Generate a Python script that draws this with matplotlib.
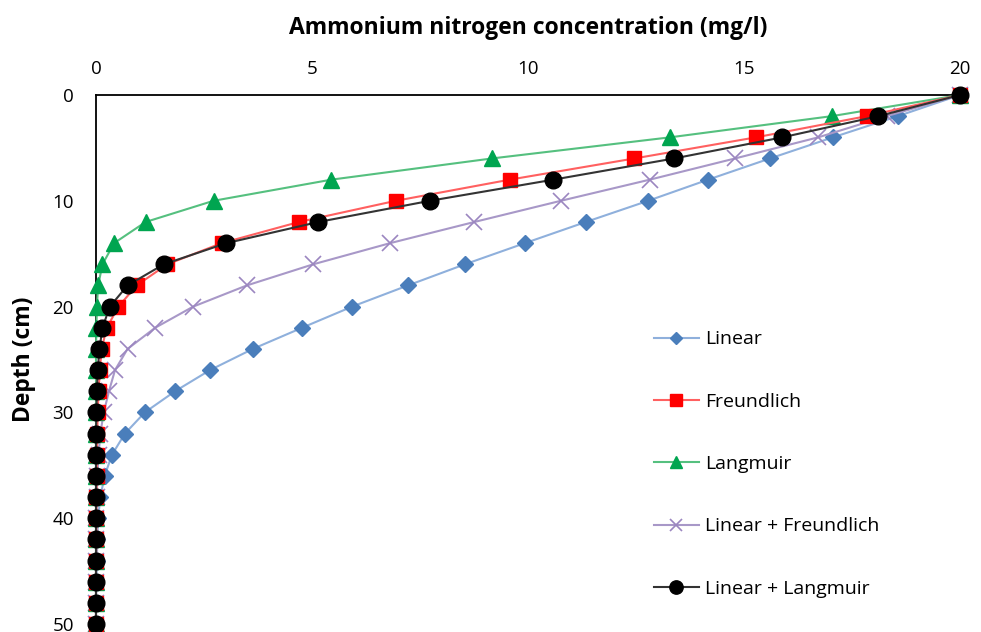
import matplotlib
matplotlib.use('Agg')
import matplotlib.pyplot as plt

plt.rcParams['font.family'] = ['Open Sans', 'DejaVu Sans']

# depth every 2 cm
depth = list(range(0, 52, 2))

linear = [20, 18.56, 17.06, 15.6, 14.17, 12.78, 11.34, 9.93, 8.54, 7.22, 5.93,
          4.77, 3.63, 2.64, 1.83, 1.13, 0.67, 0.37, 0.2, 0.1, 0.05, 0.03,
          0.02, 0.01, 0.0, 0.0]
freundlich = [20, 17.84, 15.28, 12.46, 9.58, 6.94, 4.70, 2.91, 1.65, 0.94, 0.52,
              0.25, 0.13, 0.09, 0.06, 0.04, 0.03, 0.02, 0.02, 0.01, 0.01, 0.01,
              0.0, 0.0, 0.0, 0.0]
langmuir = [20, 17.03, 13.29, 9.16, 5.45, 2.72, 1.15, 0.42, 0.15, 0.05, 0.02,
            0.01, 0.0, 0.0, 0.0, 0.0, 0.0, 0.0, 0.0, 0.0, 0.0, 0.0,
            0.0, 0.0, 0.0, 0.0]
lin_freundlich = [20, 18.3, 16.72, 14.79, 12.82, 10.76, 8.76, 6.81, 5.03, 3.49, 2.25,
                  1.37, 0.73, 0.44, 0.3, 0.18, 0.1, 0.06, 0.03, 0.02, 0.01, 0.01,
                  0.0, 0.0, 0.0, 0.0]
lin_langmuir = [20, 18.11, 15.89, 13.38, 10.59, 7.73, 5.15, 3.02, 1.57, 0.73, 0.32,
                0.15, 0.08, 0.04, 0.02, 0.01, 0.0, 0.0, 0.0, 0.0, 0.0, 0.0,
                0.0, 0.0, 0.0, 0.0]

fig = plt.figure(figsize=(9.81, 6.32), dpi=100)
ax = fig.add_axes([96 / 981, 1 - 624 / 632, (960 - 96) / 981, (624 - 95) / 632])

ax.plot(linear, depth, color='#8fb0dc', lw=1.5, marker='D', ms=8,
        mfc='#4a7ebb', mec='#4a7ebb', label='Linear', clip_on=False, zorder=3)
ax.plot(lin_freundlich, depth, color='#a898c8', lw=1.5, marker='x', ms=11, mew=1.2,
        mec='#9b86c0', label='Linear + Freundlich', clip_on=False, zorder=3)
ax.plot(langmuir, depth, color='#55c07f', lw=1.5, marker='^', ms=11,
        mfc='#00a550', mec='#00a550', label='Langmuir', clip_on=False, zorder=4)
ax.plot(freundlich, depth, color='#ff6060', lw=1.5, marker='s', ms=10,
        mfc='#ff0000', mec='#ff0000', label='Freundlich', clip_on=False, zorder=5)
ax.plot(lin_langmuir, depth, color='#333333', lw=1.5, marker='o', ms=12,
        mfc='black', mec='black', label='Linear + Langmuir', clip_on=False, zorder=6)

ax.set_xlim(0, 20)
ax.set_ylim(50, 0)
ax.xaxis.tick_top()
ax.xaxis.set_label_position('top')
ax.set_xticks([0, 5, 10, 15, 20])
ax.set_yticks([0, 10, 20, 30, 40, 50])
ax.tick_params(axis='x', length=0, pad=12, labelsize=13.5)
ax.tick_params(axis='y', length=0, pad=16, labelsize=13.5)

for s in ['right', 'bottom']:
    ax.spines[s].set_visible(False)
for s in ['top', 'left']:
    ax.spines[s].set_linewidth(1.3)
    ax.spines[s].set_zorder(1)

ax.set_xlabel('Ammonium nitrogen concentration (mg/l)', fontsize=16.5,
              fontweight='bold', labelpad=19)
ax.set_ylabel('Depth (cm)', fontsize=16.5, fontweight='bold', labelpad=12)

handles, labels = ax.get_legend_handles_labels()
order = ['Linear', 'Freundlich', 'Langmuir', 'Linear + Freundlich', 'Linear + Langmuir']
hmap = dict(zip(labels, handles))
ax.legend([hmap[k] for k in order], order, frameon=False, fontsize=14,
          loc='upper left', bbox_to_anchor=(0.626, 0.588), labelspacing=2.28,
          handlelength=2.27, markerscale=0.8, handletextpad=0.35)

fig.savefig('out.png', dpi=100)
